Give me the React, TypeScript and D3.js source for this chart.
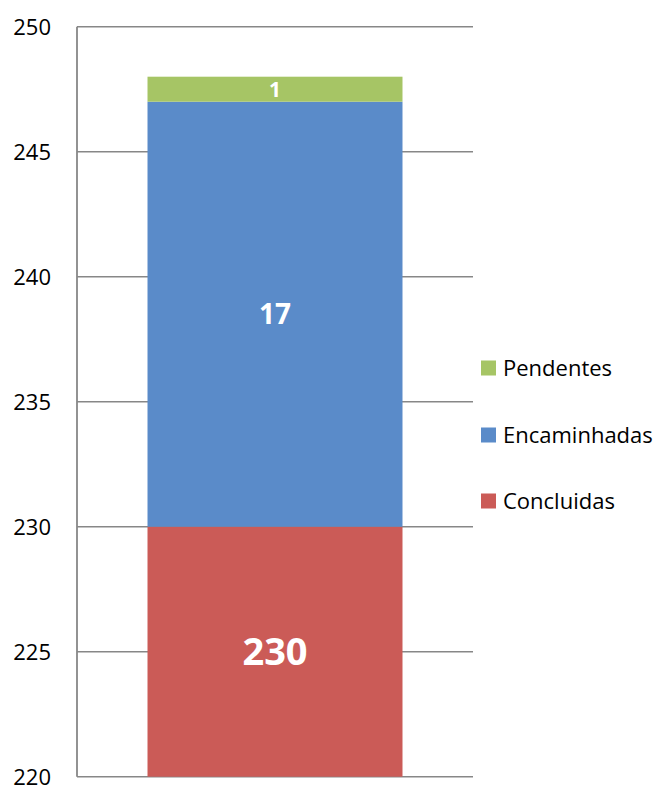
import React from "react";
import * as d3 from "d3";

const categories = ["Total"];
const seriesNames = ["Concluidas", "Encaminhadas", "Pendentes"];
const concluidas = [230];
const encaminhadas = [17];
const pendentes = [1];
const seriesColors = ["#CB5B57", "#5A8BC9", "#A6C565"];
const yTicks = [220, 225, 230, 235, 240, 245, 250];
const labelSizes = [38, 28, 21];

export default function App() {
  const W = 662, H = 788;
  const left = 77, right = 473, top = 26.7, bottom = 776.7;
  const y = d3.scaleLinear().domain([220, 250]).range([bottom, top]);
  const x = d3.scaleBand<string>().domain(categories).range([left, right]).paddingInner(0).paddingOuter(0.2765);
  const values = [concluidas, encaminhadas, pendentes];
  const rows = categories.map((c, i) => {
    const r: any = { cat: c };
    seriesNames.forEach((s, k) => (r[s] = values[k][i]));
    return r;
  });
  const stacked = d3.stack<any>().keys(seriesNames)(rows);
  const font = "'Open Sans', 'Liberation Sans', sans-serif";
  const legendY = [368, 435, 501];
  const legendOrder = [2, 1, 0];
  return (
    <svg width={W} height={H} style={{ position: "absolute", left: 0, top: 0, background: "#fff" }}>
      {yTicks.map((t) => (
        <g key={t}>
          <line x1={left} x2={right} y1={y(t)} y2={y(t)} stroke="#878787" strokeWidth={1.6} />
          <text x={51} y={y(t)} dy="0.36em" textAnchor="end" fontFamily={font} fontSize={22} fill="#000">
            {t}
          </text>
        </g>
      ))}
      {stacked.map((s, k) =>
        s.map((d, i) => {
          const y0 = y(Math.max(d[0], 220));
          const y1 = y(d[1]);
          return (
            <g key={k + "-" + i}>
              <rect x={x(categories[i])!} width={x.bandwidth()} y={y1} height={y0 - y1} fill={seriesColors[k]} />
              <text
                x={x(categories[i])! + x.bandwidth() / 2}
                y={(y0 + y1) / 2}
                dy="0.36em"
                textAnchor="middle"
                fontFamily={font}
                fontWeight="bold"
                fontSize={labelSizes[k]}
                fill="#fff"
              >
                {values[k][i]}
              </text>
            </g>
          );
        })
      )}
      <line x1={left} x2={left} y1={top} y2={bottom} stroke="#878787" strokeWidth={1.8} />
      {legendOrder.map((k, j) => (
        <g key={k}>
          <rect x={481} y={legendY[j] - 7.5} width={15} height={15} fill={seriesColors[k]} />
          <text x={503} y={legendY[j]} dy="0.36em" fontFamily={font} fontSize={22} fill="#000">
            {seriesNames[k]}
          </text>
        </g>
      ))}
    </svg>
  );
}
